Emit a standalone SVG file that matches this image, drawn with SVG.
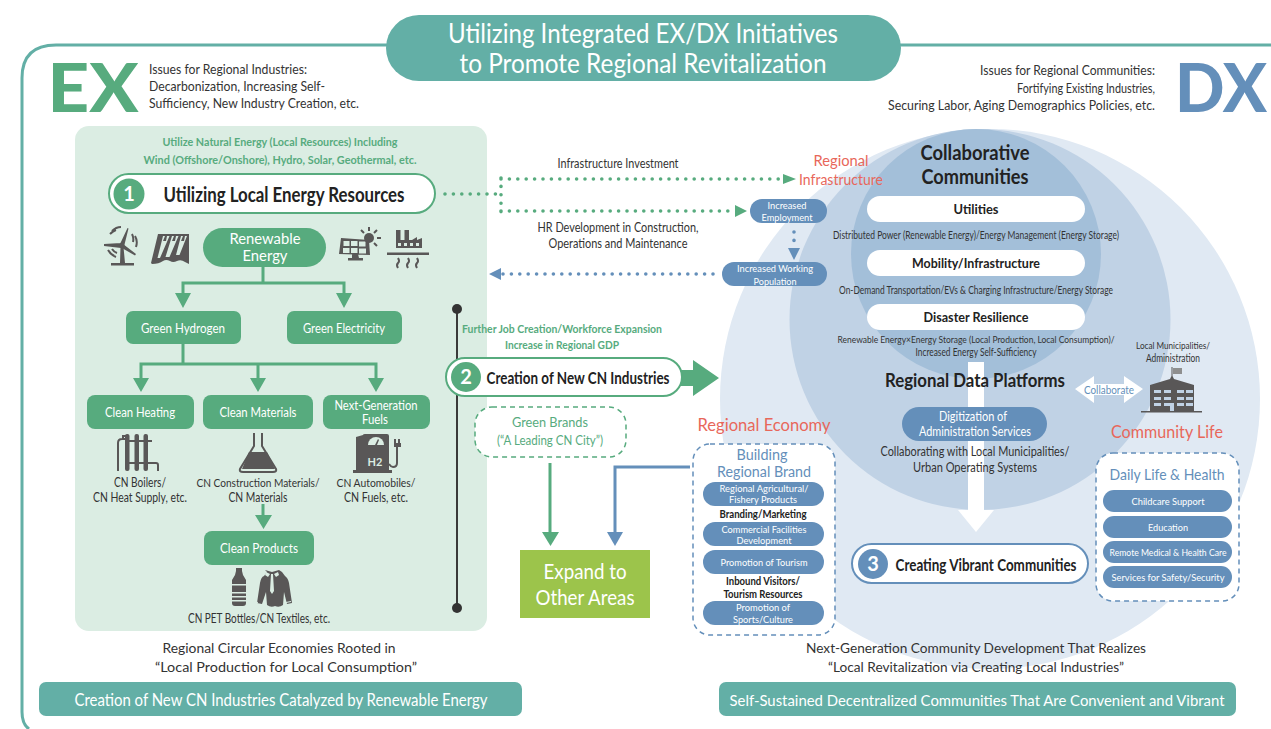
<svg xmlns="http://www.w3.org/2000/svg" width="1271" height="729" viewBox="0 0 1271 729">
<style>
text{font-family:"Lato","Noto Sans","Liberation Sans",sans-serif;text-anchor:middle;fill:#333}
.s{font-size:12.5px}
.xs{font-size:10.5px}
.w{fill:#fff}
.g{fill:#57ab7e}
.bl{fill:#648fba}
.rd{fill:#e8675a}
.gb{fill:#57ab7e;stroke:none}
.bb{fill:#648fba;stroke:none}
.b{font-weight:700;fill:#222}
.ic{fill:#595757;stroke:none}
.icl{fill:none;stroke:#595757;stroke-width:2}
.pale{fill:#dbede3;stroke:none}
.gl{fill:none;stroke:#57ab7e;stroke-width:3}
.gd{fill:none;stroke:#57ab7e;stroke-width:3.6;stroke-linecap:round;stroke-dasharray:0 8.4}
.bd{fill:none;stroke:#648fba;stroke-width:3.6;stroke-linecap:round;stroke-dasharray:0 8.4}
.st{text-anchor:start}
.en{text-anchor:end}
</style>
<rect width="1271" height="729" fill="#fff"/>
<g id="frame"><path d="M1271 45H56Q22 45 22 78V712Q22 724 29 729" fill="none" stroke="#63afa6" stroke-width="3"/></g>
<g id="title"><rect x="386" y="15" width="515" height="66" rx="33" fill="#63afa6"/>
<text x="643" y="43" class="w" font-size="27" textLength="390" lengthAdjust="spacingAndGlyphs">Utilizing Integrated EX/DX Initiatives</text>
<text x="643" y="73" class="w" font-size="27" textLength="367" lengthAdjust="spacingAndGlyphs">to Promote Regional Revitalization</text></g>
<g id="ex-head"><text x="93" y="112" font-size="66" font-weight="900" class="g" textLength="91" lengthAdjust="spacingAndGlyphs">EX</text>
<text x="149" y="74" class="s st" textLength="158" lengthAdjust="spacingAndGlyphs">Issues for Regional Industries:</text>
<text x="149" y="91" class="s st" textLength="176" lengthAdjust="spacingAndGlyphs">Decarbonization, Increasing Self-</text>
<text x="149" y="108" class="s st" textLength="210" lengthAdjust="spacingAndGlyphs">Sufficiency, New Industry Creation, etc.</text></g>
<g id="dx-head"><text x="1221" y="112" font-size="66" font-weight="900" class="bl" textLength="92" lengthAdjust="spacingAndGlyphs">DX</text>
<text x="1155" y="75" class="s en" textLength="175" lengthAdjust="spacingAndGlyphs">Issues for Regional Communities:</text>
<text x="1155" y="93" class="s en" textLength="138" lengthAdjust="spacingAndGlyphs">Fortifying Existing Industries,</text>
<text x="1155" y="110" class="s en" textLength="267" lengthAdjust="spacingAndGlyphs">Securing Labor, Aging Demographics Policies, etc.</text></g>

<g id="circles"><circle cx="990" cy="399" r="270" fill="#e0e9f3"/><circle cx="980" cy="319.500" r="190.500" fill="#c0d2e5"/><circle cx="976" cy="254" r="125" fill="#a3bfd9"/></g>

<g id="ex-panel"><rect x="75" y="126" width="412" height="505" rx="14" fill="#dbede3"/>
<text x="280" y="146" class="g" font-size="11.500" font-weight="700" textLength="235" lengthAdjust="spacingAndGlyphs">Utilize Natural Energy (Local Resources) Including</text>
<text x="280" y="164" class="g" font-size="11.500" font-weight="700" textLength="273" lengthAdjust="spacingAndGlyphs">Wind (Offshore/Onshore), Hydro, Solar, Geothermal, etc.</text></g>

<g id="n1"><rect x="109" y="174" width="326" height="39" rx="19.500" fill="#fff" stroke="#57ab7e" stroke-width="2"/><circle cx="129" cy="194" r="15.500" fill="#57ab7e"/><text x="129" y="201" class="w" font-size="20" font-weight="700">1</text>
<text x="284" y="202" class="b" font-size="21" textLength="241" lengthAdjust="spacingAndGlyphs">Utilizing Local Energy Resources</text></g>

<g id="n-renewable"><rect x="203" y="228" width="123" height="39" rx="19.500" class="gb"/><text x="265" y="244" class="w" font-size="15.500" textLength="71" lengthAdjust="spacingAndGlyphs">Renewable</text><text x="265" y="261" class="w" font-size="15.500" textLength="45" lengthAdjust="spacingAndGlyphs">Energy</text></g>

<g id="icons-energy">
<path class="ic" d="M120.500 247h3l1.500 16h9v2.500h-23v-2.500h9z"/>
<path class="ic" d="M121 243l-17 1v2l17 2zM120.500 243l7-15 1 .5-4 16zM123 244l13 10-1 1.500-14-8z"/>
<circle class="ic" cx="122" cy="245" r="2.500"/>
<path class="icl" stroke-width="1.300" d="M112 231q4-4 9-4M110 234q3-3 6-4M135 236q3 5 1 11M132 234q2 4 1 8M108 250q3 5 8 7M112 249q2 3 5 4"/>
<path class="ic" d="M158 234h31v30l-4-2q-4-3-8-1-4 2-7 0-4-2-7 0-4 3-11 3l-1-1z"/>
<path class="pale" d="M163 236h6.500l-9.500 22h-2.500zM172 236h6.500l-9 21h-4zM181 236h6l-7.500 19h-3.500z"/>
<path class="ic" d="M165 236h2l-1 5h-3zM174 236h2l-1 5h-3zM183 236h2l-1 5h-3z"/>
<path class="ic" d="M341 238l28 2 1 15-31-1zM352 254h6l1 4h4v2.500h-15v-2.500h4z"/>
<path class="pale" d="M343.500 241h6v5h-6zM351 241h6.500v5h-6.500zM359 241.500h6.500v5h-6.500zM343 248h6.500v5h-6.500zM351 248h6.500v5h-6.500zM359 248.500h7v5h-7z"/>
<circle class="ic" cx="369" cy="238" r="5"/>
<path class="icl" stroke-width="1.500" d="M369 227v4M377 230l-3 3M381 238h-4M377 246l-3-3M361 230l3 3"/>
<path class="ic" d="M396 230h4.500v10h4v-10h4.500v10h3l5-3v3l5-2v10h-26zM387 252.500h42v2.500h-42z"/>
<path class="pale" d="M398 243h3v3h-3zM404 243h3v3h-3zM410 243h3v3h-3zM416 243h3v3h-3z"/>
<path class="icl" stroke-width="1.300" d="M398 258q2 3 0 5t0 5M408 258q2 3 0 5t0 5M417 258q2 3 0 5t0 5"/>
</g>

<g id="green-nodes">
<g id="n-hydrogen"><rect x="126" y="311" width="115" height="33" rx="7" class="gb"/><text x="183" y="333" class="w" font-size="13.500" textLength="84" lengthAdjust="spacingAndGlyphs">Green Hydrogen</text></g>
<g id="n-electricity"><rect x="287" y="311" width="115" height="33" rx="7" class="gb"/><text x="344" y="333" class="w" font-size="13.500" textLength="82" lengthAdjust="spacingAndGlyphs">Green Electricity</text></g>
<g id="n-heating"><rect x="87" y="395" width="107" height="34" rx="8" class="gb"/><text x="140" y="417" class="w" font-size="13.500" textLength="70" lengthAdjust="spacingAndGlyphs">Clean Heating</text></g>
<g id="n-materials"><rect x="203" y="395" width="110" height="34" rx="8" class="gb"/><text x="258" y="417" class="w" font-size="13.500" textLength="77" lengthAdjust="spacingAndGlyphs">Clean Materials</text></g>
<g id="n-fuels"><rect x="323" y="395" width="107" height="34" rx="8" class="gb"/><text x="376" y="410" class="w" font-size="13.500" textLength="83" lengthAdjust="spacingAndGlyphs">Next-Generation</text><text x="375" y="424" class="w" font-size="13.500" textLength="26" lengthAdjust="spacingAndGlyphs">Fuels</text></g>
<g id="n-products"><rect x="204" y="531" width="110" height="34" rx="8" class="gb"/><text x="259" y="553" class="w" font-size="13.500" textLength="78" lengthAdjust="spacingAndGlyphs">Clean Products</text></g>
</g>

<g id="green-labels">
<text x="140" y="487" class="s" textLength="52" lengthAdjust="spacingAndGlyphs">CN Boilers/</text>
<text x="140" y="502" class="s" textLength="94" lengthAdjust="spacingAndGlyphs">CN Heat Supply, etc.</text>
<text x="258" y="487" font-size="11.500" textLength="123" lengthAdjust="spacingAndGlyphs">CN Construction Materials/</text>
<text x="258" y="502" class="s" textLength="59" lengthAdjust="spacingAndGlyphs">CN Materials</text>
<text x="376" y="487" font-size="11.500" textLength="79" lengthAdjust="spacingAndGlyphs">CN Automobiles/</text>
<text x="376" y="502" class="s" textLength="64" lengthAdjust="spacingAndGlyphs">CN Fuels, etc.</text>
<text x="259" y="623" class="s" textLength="142" lengthAdjust="spacingAndGlyphs">CN PET Bottles/CN Textiles, etc.</text>
</g>

<g id="icons-green">
<path class="icl" stroke-width="1.300" d="M118 471v-28q0-4 4-4h4M122 436h4M123 436v3M151 463h5q2 0 2 2v6M126 441h26M126 463h26"/>
<rect class="ic" x="125" y="434" width="4.500" height="37" rx="2"/><rect class="ic" x="134.500" y="434" width="4.500" height="37" rx="2"/><rect class="ic" x="143.500" y="434" width="4.500" height="37" rx="2"/>
<path fill="none" stroke="#595757" stroke-width="2" d="M254 433v13l-14 23q-1 3 3 3h30q4 0 3-3l-14-23v-13"/>
<path class="ic" d="M249 452h18l8 17h-33z"/>
<path class="ic" d="M363 435q0-1 2-1h22q2 0 2 2v34h3v3h-39v-3h3v-33z"/>
<path class="pale" d="M368 445a8 8 0 0 1 16 0z"/><path class="ic" d="M375 445l3-6 1 1-2 5z"/>
<text x="375" y="466" font-size="11" font-weight="700" style="fill:#dbede3">H2</text>
<path class="icl" d="M389 464q2 3 4 3 4 0 4-4v-16"/>
<path class="ic" d="M394 439h2v4h2v-4h2v4h1v4h-7z"/>
<path class="ic" d="M236 568h6v3l1 4 3 5v23q0 3-3 3h-8q-3 0-3-3v-23l3-5 1-4z"/>
<path class="pale" d="M232 584h14v1.500h-14zM232 592h14v1.500h-14zM232 596h14v1.500h-14zM232 600h14v1.500h-14z"/>
<path class="ic" d="M265 570l7 2 7-2 3 2 3 4q3 2 4 7l3 20-5 1-3-12-1 13q-4 3-8 1-4 2-8-1l-1-13-4 12-5-1 3-20q1-6 4-7l3-4z"/>
<path class="pale" d="M271 574h2l1 17-2 3-2-3zM266 572l4 2-2 3-3-2zM278 572l-4 2 2 3 3-2zM253 601l5 1v1l-5-1zM291 601l-5 1v1l5-1z"/>
</g>

<g id="connectors">
<g id="green-arrows">
<path class="gl" d="M263 267v16M183 295v-12h161v12"/>
<path class="gl" d="M183 344v20M141 380v-16h235v16M258 364v16"/>
<path class="gl" d="M263 504v12"/>
<path class="gb" d="M175 293h16l-8 15zM336 293h16l-8 15zM133 378h16l-8 14zM250 378h16l-8 14zM368 378h16l-8 14zM255 515h17l-8.500 14z"/>
</g>
<path class="gd" d="M445 194H501M501 178V213M501 179H782M501 211H736"/>
<path class="gb" d="M783 174l13 5-13 5zM735 205l12 6-12 6z"/>
<path class="bd" d="M794 232v14M713 274H503"/>
<path class="bb" d="M788 248h12l-6 12zM501 268v12l-12-6z"/>
<path d="M457 309V608" stroke="#3a3a3a" stroke-width="2" fill="none"/>
<circle cx="457" cy="309" r="5" fill="#333"/><circle cx="457" cy="608" r="5" fill="#333"/>
<path d="M550 463V533" stroke="#57ab7e" stroke-width="3" fill="none"/><path class="gb" d="M542 532h17l-8.500 14z"/>
<path d="M690 467H615V533" stroke="#648fba" stroke-width="3" fill="none"/><path class="bb" d="M607 532h16l-8 14z"/>
<path class="gb" d="M693 360l26 18-26 18v-10h-25v-16h25z"/>
<path fill="#fff" d="M968 362H984V510H994L976 532 958 510H968z"/>
<path fill="#fff" d="M1075 389l19-13v8h30v-8l19 13-19 14v-8h-30v8z"/>
</g>
<g id="link-labels">
<text x="618" y="168" class="s" textLength="121" lengthAdjust="spacingAndGlyphs">Infrastructure Investment</text>
<text x="618" y="232" class="s" textLength="161" lengthAdjust="spacingAndGlyphs">HR Development in Construction,</text>
<text x="618" y="248" class="s" textLength="139" lengthAdjust="spacingAndGlyphs">Operations and Maintenance</text>
<text x="1109" y="394" font-size="11.500" class="bl" textLength="50" lengthAdjust="spacingAndGlyphs">Collaborate</text>
</g>
<g id="n-infra"><text x="841" y="166" class="rd" font-size="15.500" textLength="55" lengthAdjust="spacingAndGlyphs">Regional</text><text x="841" y="185" class="rd" font-size="15.500" textLength="84" lengthAdjust="spacingAndGlyphs">Infrastructure</text></g>
<g id="n-employment"><rect x="750" y="199" width="77" height="24" rx="12" class="bb"/><text x="787" y="209" class="w" font-size="10" textLength="39" lengthAdjust="spacingAndGlyphs">Increased</text><text x="787" y="221" class="w" font-size="10" textLength="51" lengthAdjust="spacingAndGlyphs">Employment</text></g>
<g id="n-working"><rect x="722" y="262" width="105" height="24" rx="12" class="bb"/><text x="775" y="272" class="w" font-size="10" textLength="76" lengthAdjust="spacingAndGlyphs">Increased Working</text><text x="775" y="285" class="w" font-size="10" textLength="43" lengthAdjust="spacingAndGlyphs">Population</text></g>

<g id="n-collab"><text x="975" y="160" class="b" font-size="20" textLength="109" lengthAdjust="spacingAndGlyphs">Collaborative</text><text x="975" y="184" class="b" font-size="20" textLength="107" lengthAdjust="spacingAndGlyphs">Communities</text></g>
<g id="n-utilities"><rect x="867" y="196" width="218" height="26" rx="13" fill="#fff"/><text x="976" y="214" class="b" font-size="14" textLength="45" lengthAdjust="spacingAndGlyphs">Utilities</text></g>
<text x="976" y="239" class="xs" textLength="286" lengthAdjust="spacingAndGlyphs">Distributed Power (Renewable Energy)/Energy Management (Energy Storage)</text>
<g id="n-mobility"><rect x="867" y="250" width="218" height="26" rx="13" fill="#fff"/><text x="976" y="268" class="b" font-size="14" textLength="128" lengthAdjust="spacingAndGlyphs">Mobility/Infrastructure</text></g>
<text x="976" y="294" class="xs" textLength="274" lengthAdjust="spacingAndGlyphs">On-Demand Transportation/EVs &amp; Charging Infrastructure/Energy Storage</text>
<g id="n-disaster"><rect x="867" y="304" width="218" height="26" rx="13" fill="#fff"/><text x="976" y="322" class="b" font-size="14" textLength="105" lengthAdjust="spacingAndGlyphs">Disaster Resilience</text></g>
<text x="976" y="343" font-size="9.500" textLength="277" lengthAdjust="spacingAndGlyphs">Renewable Energy×Energy Storage (Local Production, Local Consumption)/</text>
<text x="976" y="356" class="xs" textLength="121" lengthAdjust="spacingAndGlyphs">Increased Energy Self-Sufficiency</text>
<g id="n-platforms"><text x="975" y="387" class="b" font-size="19" textLength="180" lengthAdjust="spacingAndGlyphs">Regional Data Platforms</text></g>
<g id="n-digit"><rect x="902" y="407" width="145" height="34" rx="17" class="bb"/><text x="973" y="421" class="w" font-size="12.500" textLength="68" lengthAdjust="spacingAndGlyphs">Digitization of</text><text x="975" y="436" class="w" font-size="12.500" textLength="112" lengthAdjust="spacingAndGlyphs">Administration Services</text></g>
<text x="975" y="456" class="s" textLength="189" lengthAdjust="spacingAndGlyphs">Collaborating with Local Municipalities/</text>
<text x="975" y="472" class="s" textLength="124" lengthAdjust="spacingAndGlyphs">Urban Operating Systems</text>

<g id="n-municipal"><text x="1173" y="349" font-size="9.500" textLength="74" lengthAdjust="spacingAndGlyphs">Local Municipalities/</text><text x="1173" y="362" class="xs" textLength="54" lengthAdjust="spacingAndGlyphs">Administration</text>
<path class="ic" d="M1150 385l20-6 1.500-3v-9h1v9l1.500 3 20 6v26h8v1.500h-61v-1.500h9z"/><path d="M1173 368h9v6h-9z" fill="#8f8f8f"/>
<path fill="#c0d2e5" d="M1154 390h7v3h-7zM1164 390h7v3h-7zM1177 390h7v3h-7zM1186 390h7v3h-7zM1154 397h7v3h-7zM1164 397h7v3h-7zM1177 397h7v3h-7zM1186 397h7v3h-7zM1154 403h7v3h-7zM1164 403h7v3h-7zM1177 403h7v3h-7zM1186 403h7v3h-7zM1170 403h4v8h-4z"/></g>
<g id="n-community"><text x="1167" y="438" font-size="17.500" class="rd" textLength="112" lengthAdjust="spacingAndGlyphs">Community Life</text></g>

<g id="n-daily"><rect x="1096" y="453" width="143" height="148" rx="17" fill="#fff" stroke="#648fba" stroke-width="1.500" stroke-dasharray="5 4"/>
<text x="1167" y="480" font-size="16" class="bl" textLength="115" lengthAdjust="spacingAndGlyphs">Daily Life &amp; Health</text>
<rect x="1103" y="490" width="129" height="22" rx="11" class="bb"/><text x="1168" y="505" class="w" font-size="10" textLength="73" lengthAdjust="spacingAndGlyphs">Childcare Support</text>
<rect x="1103" y="516" width="129" height="22" rx="11" class="bb"/><text x="1168" y="531" class="w" font-size="10" textLength="40" lengthAdjust="spacingAndGlyphs">Education</text>
<rect x="1103" y="541" width="129" height="22" rx="11" class="bb"/><text x="1168" y="556" class="w" font-size="10" textLength="117" lengthAdjust="spacingAndGlyphs">Remote Medical &amp; Health Care</text>
<rect x="1103" y="566" width="129" height="22" rx="11" class="bb"/><text x="1168" y="581" class="w" font-size="10" textLength="113" lengthAdjust="spacingAndGlyphs">Services for Safety/Security</text></g>

<g id="n2"><rect x="446" y="358" width="236" height="38" rx="19" fill="#fff" stroke="#57ab7e" stroke-width="2"/><circle cx="466" cy="377" r="15" fill="#57ab7e"/><text x="466" y="384" class="w" font-size="20" font-weight="700">2</text>
<text x="578" y="384" class="b" font-size="17" textLength="183" lengthAdjust="spacingAndGlyphs">Creation of New CN Industries</text></g>
<text x="562" y="333" class="g" font-size="11.500" font-weight="700" textLength="200" lengthAdjust="spacingAndGlyphs">Further Job Creation/Workforce Expansion</text>
<text x="562" y="349" class="g" font-size="11.500" font-weight="700" textLength="114" lengthAdjust="spacingAndGlyphs">Increase in Regional GDP</text>
<g id="n-brands"><rect x="475" y="407" width="151" height="50" rx="17" fill="#fff" stroke="#57ab7e" stroke-width="1.500" stroke-dasharray="5 4"/><text x="550" y="427" class="g" font-size="14" textLength="76" lengthAdjust="spacingAndGlyphs">Green Brands</text><text x="550" y="445" class="g" font-size="14" textLength="106" lengthAdjust="spacingAndGlyphs">(“A Leading CN City”)</text></g>
<g id="n-expand"><rect x="520" y="550" width="130" height="68" fill="#9cc44b"/><text x="585" y="579" class="w" font-size="21" textLength="83" lengthAdjust="spacingAndGlyphs">Expand to</text><text x="585" y="605" class="w" font-size="21" textLength="99" lengthAdjust="spacingAndGlyphs">Other Areas</text></g>

<g id="n-economy"><text x="764" y="431" font-size="18" class="rd" textLength="133" lengthAdjust="spacingAndGlyphs">Regional Economy</text></g>
<g id="n-brand"><rect x="693" y="444" width="142" height="191" rx="17" fill="#fff" stroke="#648fba" stroke-width="1.500" stroke-dasharray="5 4"/>
<text x="762" y="460" font-size="15.500" class="bl" textLength="51" lengthAdjust="spacingAndGlyphs">Building</text><text x="764" y="477" font-size="15.500" class="bl" textLength="94" lengthAdjust="spacingAndGlyphs">Regional Brand</text>
<rect x="703" y="482" width="121" height="24" rx="12" class="bb"/><text x="764" y="492" class="w" font-size="10" textLength="89" lengthAdjust="spacingAndGlyphs">Regional Agricultural/</text><text x="763" y="503" class="w" font-size="10" textLength="68" lengthAdjust="spacingAndGlyphs">Fishery Products</text>
<text x="763" y="518" font-size="11" font-weight="700" style="fill:#222" textLength="87" lengthAdjust="spacingAndGlyphs">Branding/Marketing</text>
<rect x="703" y="522" width="121" height="24" rx="12" class="bb"/><text x="764" y="533" class="w" font-size="10" textLength="85" lengthAdjust="spacingAndGlyphs">Commercial Facilities</text><text x="764" y="544" class="w" font-size="10" textLength="55" lengthAdjust="spacingAndGlyphs">Development</text>
<rect x="703" y="550" width="121" height="24" rx="12" class="bb"/><text x="764" y="566" class="w" font-size="10" textLength="87" lengthAdjust="spacingAndGlyphs">Promotion of Tourism</text>
<text x="763" y="585" font-size="11" font-weight="700" style="fill:#222" textLength="74" lengthAdjust="spacingAndGlyphs">Inbound Visitors/</text>
<text x="763" y="598" font-size="11" font-weight="700" style="fill:#222" textLength="79" lengthAdjust="spacingAndGlyphs">Tourism Resources</text>
<rect x="703" y="601" width="121" height="24" rx="12" class="bb"/><text x="763" y="611" class="w" font-size="10" textLength="54" lengthAdjust="spacingAndGlyphs">Promotion of</text><text x="763" y="623" class="w" font-size="10" textLength="60" lengthAdjust="spacingAndGlyphs">Sports/Culture</text></g>

<g id="n3"><rect x="852" y="544" width="236" height="39" rx="19.500" fill="#fff" stroke="#648fba" stroke-width="2"/><circle cx="873" cy="564" r="15" fill="#648fba"/><text x="873" y="571" class="w" font-size="20" font-weight="700">3</text>
<text x="986" y="571" class="b" font-size="17" textLength="181" lengthAdjust="spacingAndGlyphs">Creating Vibrant Communities</text></g>

<g id="bottom">
<text x="279" y="653" font-size="14" textLength="233" lengthAdjust="spacingAndGlyphs">Regional Circular Economies Rooted in</text>
<text x="286" y="672" font-size="14" textLength="262" lengthAdjust="spacingAndGlyphs">“Local Production for Local Consumption”</text>
<text x="976" y="653" font-size="14" textLength="340" lengthAdjust="spacingAndGlyphs">Next-Generation Community Development That Realizes</text>
<text x="976" y="672" font-size="14" textLength="296" lengthAdjust="spacingAndGlyphs">“Local Revitalization via Creating Local Industries”</text>
<rect x="39" y="682" width="483" height="34" rx="7" fill="#63afa6"/><text x="281" y="706" class="w" font-size="18" textLength="413" lengthAdjust="spacingAndGlyphs">Creation of New CN Industries Catalyzed by Renewable Energy</text>
<rect x="719" y="682" width="517" height="34" rx="7" fill="#63afa6"/><text x="977" y="706" class="w" font-size="16" textLength="495" lengthAdjust="spacingAndGlyphs">Self-Sustained Decentralized Communities That Are Convenient and Vibrant</text>
</g>
</svg>
